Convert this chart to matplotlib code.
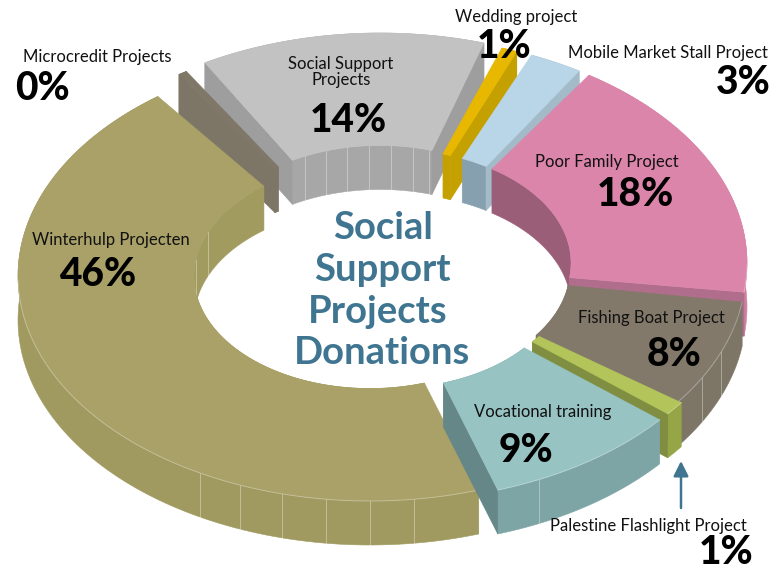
import numpy as np
import matplotlib
matplotlib.use("Agg")
import matplotlib.pyplot as plt
from matplotlib.patches import Polygon

# Data, clockwise from the front of the ring
names = ["Winterhulp Projecten", "Microcredit Projects", "Social Support\nProjects", "Wedding project",
         "Mobile Market Stall Project", "Poor Family Project", "Fishing Boat Project",
         "Palestine Flashlight Project", "Vocational training"]
shares = [46, 0.4, 14, 1, 3, 18, 8, 1, 9]

# Colours: top, inner wall, outer wall, cut face
top_cols = ["#A9A167", "#7F7768", "#C2C2C2", "#E8B800", "#B9D5E8", "#DC85AB", "#82796A", "#B3C55A", "#97C3C3"]
inner_cols = ["#A29B60", "#7D7566", "#A7A7A7", "#C4A000", "#87A0AF", "#9A5E78", "#7D7566", "#7F8E40", "#7EA5A5"]
outer_cols = ["#A09A60", "#7D7566", "#ADADAD", "#C4A000", "#A3BAC8", "#D080A0", "#7D7566", "#96A545", "#7EA5A5"]
side_cols = ["#A09A60", "#7D7566", "#9E9E9E", "#C4A000", "#A3BAC8", "#B06E8C", "#7D7566", "#7F8E40", "#658787"]

# Geometry of the ring, in pixels of the 774x571 picture
cx, cy = 376, 274
rx, ry = 352, 225
hole = 0.5
depth = 44
start = -72.0
offset_x = [-6, -5, 4, 8, 17, 19, 18, 21, 13]
offset_y = [2, -11, -16, -14, -12, -11, -5, -4, 2]
nudge_a = [0, 0, -1.8, -1, -1, -0.5, -1, 0, 0]  # degrees added at the start of a slice
nudge_b = [4, 0, 1.4, 0, 1, 0, 0, 0, 0]  # degrees added at the end of a slice
draw_order = [2, 1, 0, 3, 4, 5, 6, 7, 8]

# Facet lines on the walls, angle in degrees
inner_marks = [[-203, -188, -172], [], [115.2, 108, 100.8, 93.6, 86.4, 79.2, 74], [], [49], [], [], [], []]
outer_marks = [[-118.8, -111.6, -104.4, -97.2, -90, -82.8], [], [], [], [], [], [-21.6, -28.8], [], [-64.8]]

fig = plt.figure(figsize=(7.74, 5.71), dpi=100)
ax = fig.add_axes([0, 0, 1, 1])
ax.set_xlim(0, 774)
ax.set_ylim(571, 0)
ax.axis("off")


def ring(t, frac, ox, oy, drop=0):
    t = np.radians(t)
    return np.column_stack([cx + ox + frac * rx * np.cos(t), cy + oy - frac * ry * np.sin(t) + drop])


def face(pts, col, z):
    ax.add_patch(Polygon(pts, closed=True, facecolor=col, edgecolor=col, lw=0.4, zorder=z))


total = sum(shares)
angles = start - np.cumsum([0] + [s / total * 360 for s in shares])

for z, i in enumerate(draw_order):
    a = angles[i] + nudge_a[i]
    b = angles[i + 1] + nudge_b[i]
    ox, oy = offset_x[i], offset_y[i]
    z = z * 10 + 1
    t = np.linspace(a, b, 120)

    # outer and inner walls, the top face covers what is hidden
    face(np.vstack([ring(t, hole, ox, oy), ring(t[::-1], hole, ox, oy, depth)]), inner_cols[i], z)
    face(np.vstack([ring(t, 1, ox, oy), ring(t[::-1], 1, ox, oy, depth)]), outer_cols[i], z)

    # cut faces, only when they turn to the viewer
    if np.cos(np.radians(a)) < 0:
        s = np.array([a, a])
        face(np.vstack([ring(s, np.array([hole, 1]), ox, oy), ring(s, np.array([1, hole]), ox, oy, depth)]), side_cols[i], z + 1)
    if np.cos(np.radians(b)) > 0:
        s = np.array([b, b])
        face(np.vstack([ring(s, np.array([hole, 1]), ox, oy), ring(s, np.array([1, hole]), ox, oy, depth)]), side_cols[i], z + 1)

    for k in inner_marks[i]:
        p = ring(np.array([k, k]), hole, ox, oy) + np.array([[0, 0], [0, depth]])
        ax.plot(p[:, 0], p[:, 1], color="white", alpha=0.35, lw=0.7, zorder=z + 2)
    for k in outer_marks[i]:
        p = ring(np.array([k, k]), 1, ox, oy) + np.array([[0, 0], [0, depth]])
        ax.plot(p[:, 0], p[:, 1], color="white", alpha=0.35, lw=0.7, zorder=z + 2)

    face(np.vstack([ring(t, 1, ox, oy), ring(t[::-1], hole, ox, oy)]), top_cols[i], z + 3)

    # light rim along the front
    front = t[np.sin(np.radians(t)) < 0]
    if len(front) > 1:
        p = ring(front, 1, ox, oy)
        ax.plot(p[:, 0], p[:, 1], color="white", alpha=0.3, lw=0.7, zorder=z + 4)

# Labels
font = "Lato"
name_x = [111, 23, 341, 516, 768, 607, 651, 648, 543]
name_y = [240, 57, 72, 17, 53, 162, 318, 526, 412]
name_ha = ["center", "left", "center", "center", "right", "center", "center", "center", "center"]
pct_x = [98, 15, 348, 504, 771, 635, 674, 726, 526]
pct_y = [275, 89, 120, 46, 83, 195, 354, 552, 451]
pct_ha = ["center", "left", "center", "center", "right", "center", "center", "center", "center"]

for i in range(len(names)):
    ax.text(name_x[i], name_y[i], names[i], ha=name_ha[i], va="center", fontsize=12, family=font,
            color="#111111", linespacing=1.0, zorder=200)
    ax.text(pct_x[i], pct_y[i], f"{round(shares[i])}%", ha=pct_ha[i], va="center", fontsize=28,
            fontweight=900, family=font, color="black", zorder=200)

title_lines = ["Social", "Support", "Projects", "Donations"]
title_x = [383, 382, 378, 382]
title_y = [228, 270, 312, 353]
for s, x, y in zip(title_lines, title_x, title_y):
    ax.text(x, y, s, ha="center", va="center", fontsize=27.5, fontweight="bold", family=font,
            color="#3F7590", zorder=200)

ax.annotate("", xy=(681, 461), xytext=(681, 508), zorder=200,
            arrowprops=dict(arrowstyle="-|>,head_width=0.45,head_length=0.9", color="#3F7590", lw=1.8,
                            shrinkA=0, shrinkB=0))

fig.savefig("out.png", dpi=100)
